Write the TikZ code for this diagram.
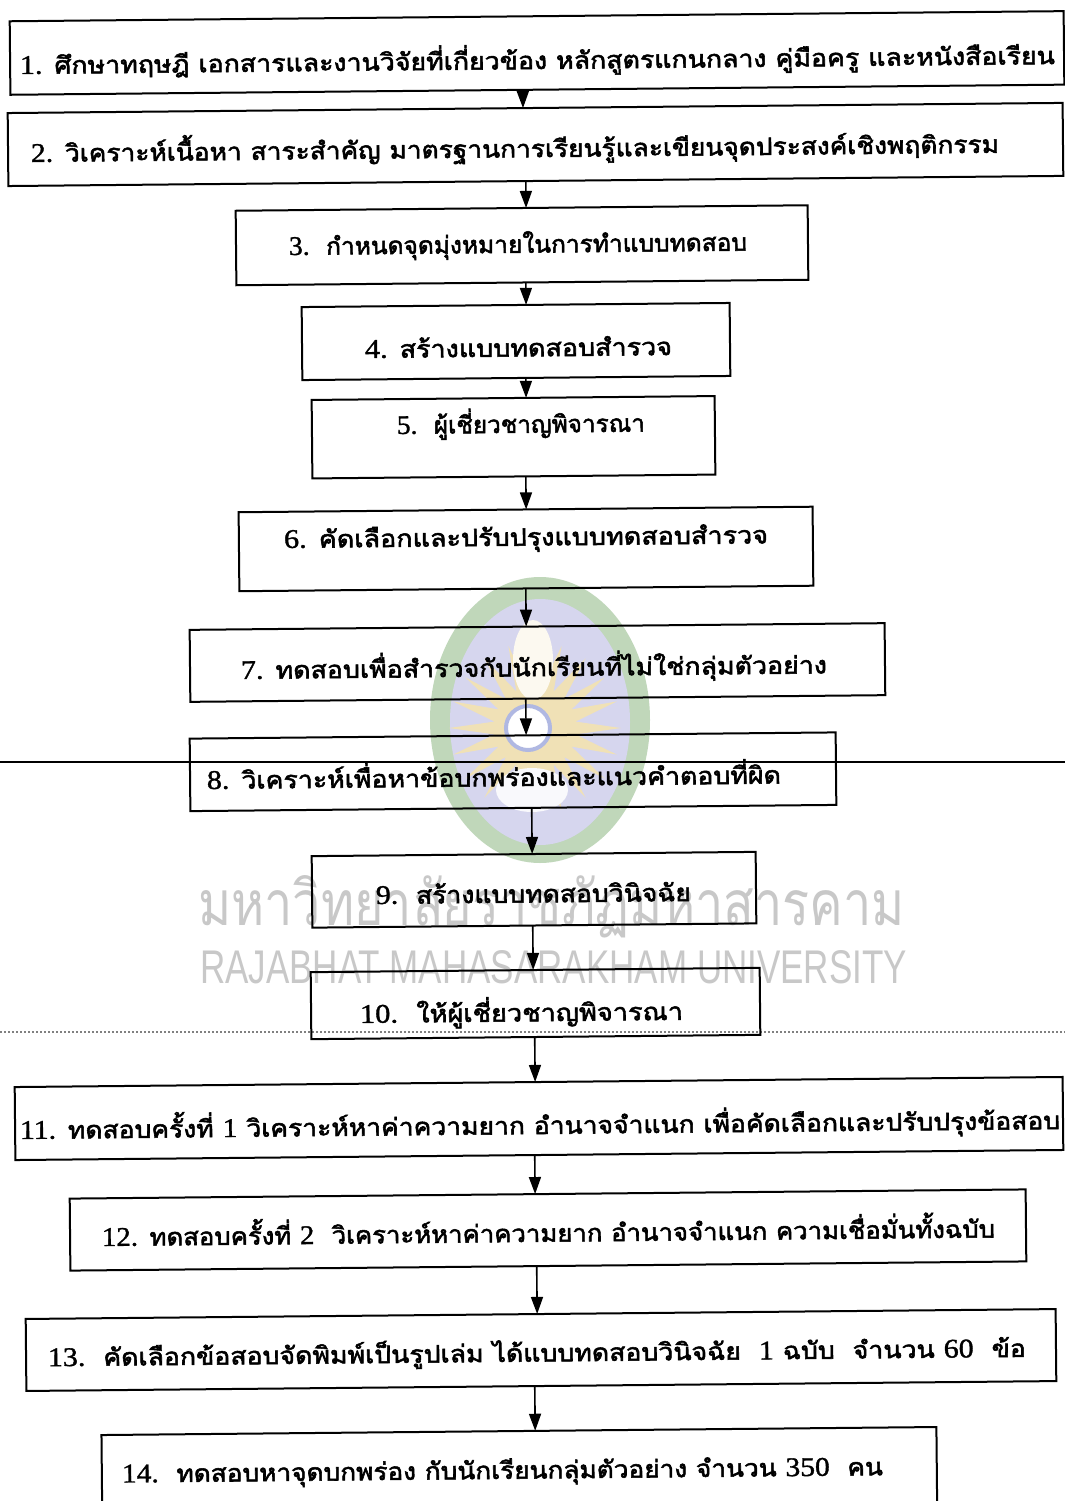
\documentclass[tikz,border=0pt]{standalone}
\usepackage{fontspec}
\usepackage{graphicx}
\usetikzlibrary{arrows.meta,shapes.geometric}
\newfontfamily\thai[Script=Thai, FakeBold=2.2]{Loma}
\newfontfamily\thaiwm[Script=Thai]{Loma}
\newfontfamily\dgfont[FakeBold=1.2]{Liberation Serif}
\newfontfamily\wmsans{Liberation Sans}
\newcommand{\dg}[1]{{\dgfont\fontsize{13.5}{15}\selectfont #1}}
\newcommand{\fitw}[2]{\resizebox{#1}{\height}{#2}}
\definecolor{wmgray}{RGB}{200,200,200}
\definecolor{logoG}{RGB}{192,215,186}
\definecolor{logoB}{RGB}{214,214,238}
\definecolor{logoY}{RGB}{240,225,182}
\definecolor{logoR}{RGB}{176,184,226}
\begin{document}
\begin{tikzpicture}[x=0.5pt,y=-0.5pt,
  box/.style={draw=black, line width=1pt, rectangle, inner sep=0pt, outer sep=0pt},
  txt/.style={anchor=base west, inner sep=0pt, outer sep=0pt, font=\thai\fontsize{12}{14}\selectfont},
  arr/.style={line width=0.8pt, -{Triangle[length=8.5pt,width=6pt]}},
  wm/.style={anchor=base west, inner sep=0pt, outer sep=0pt, text=wmgray}]
\useasboundingbox (0,0) rectangle (1065,1501);
\fill[white] (0,0) rectangle (1065,1501);
\clip (0,0) rectangle (1065,1501);
% ---- faint logo watermark
\fill[logoG] (540,720) ellipse [x radius=110, y radius=143];
\fill[logoB] (540,722) ellipse [x radius=90, y radius=123];
\node[star, star points=20, star point ratio=2.1, fill=logoY, minimum size=86pt, inner sep=0pt] (sun) at (535,728) {};
\fill[white!80!logoY] (533,660) ellipse [x radius=20, y radius=40];
\fill[white!85!logoB] (532,790) ellipse [x radius=36, y radius=22];
\fill[white] (528,728) circle [radius=22];
\draw[logoR, line width=2pt] (528,728) circle [radius=22];
% ---- text watermark
\node[wm] (wmth) at (198,925) {\resizebox{353.5pt}{25pt}{\thaiwm มหาวิทยาลัยราชภัฏมหาสารคาม}};
\node[wm] (wmen) at (200,983) {\resizebox{353.5pt}{16.5pt}{\wmsans RAJABHAT MAHASARAKHAM UNIVERSITY}};
% ---- scan lines
\coordinate (la) at (0,762); \coordinate (lb) at (1065,762);
\draw[line width=0.7pt] (la) -- (lb);
\coordinate (da) at (0,1032); \coordinate (db) at (1065,1032);
\draw[gray, line width=0.6pt, dash pattern=on 1pt off 1pt] (da) -- (db);
% ---- flowchart (slightly skewed like the scan)
\begin{scope}[rotate around={0.55:(532,750)}, transform shape]
\node[box, minimum width=527pt,   minimum height=36.75pt] (b1)  at (543.7,53)     {};
\node[box, minimum width=527.5pt, minimum height=36.5pt]  (b2)  at (541.3,144.5)  {};
\node[box, minimum width=286pt,   minimum height=37.25pt] (b3)  at (526.85,245.15){};
\node[box, minimum width=214pt,   minimum height=36.5pt]  (b4)  at (519.9,341.35) {};
\node[box, minimum width=201.5pt, minimum height=39.25pt] (b5)  at (516.5,437.07) {};
\node[box, minimum width=287pt,   minimum height=39.5pt]  (b6)  at (527.9,548.9)  {};
\node[box, minimum width=347.5pt, minimum height=36pt]    (b7)  at (538.3,662.55) {};
\node[box, minimum width=323pt,   minimum height=36.25pt] (b8)  at (512.8,771.57) {};
\node[box, minimum width=222pt,   minimum height=35.75pt] (b9)  at (532.66,889.77){};
\node[box, minimum width=224.5pt, minimum height=33.5pt]  (b10) at (533.07,1003.53){};
\node[box, minimum width=524pt,   minimum height=36.5pt]  (b11) at (535.46,1118.57){};
\node[box, minimum width=478pt,   minimum height=36pt]    (b12) at (543.4,1230.15){};
\node[box, minimum width=515pt,   minimum height=36pt]    (b13) at (535.24,1350.1){};
\node[box, minimum width=417.5pt, minimum height=60pt]    (b14) at (512.4,1490.9) {};
%
\node[txt] (t1)  at (26.5,69.1)   {\fitw{517.5pt}{\dg{1.} ศึกษาทฤษฎี เอกสารและงานวิจัยที่เกี่ยวข้อง หลักสูตรแกนกลาง คู่มือครู และหนังสือเรียน}};
\node[txt] (t2)  at (36.7,157.2)  {\fitw{484pt}{\dg{2.} วิเคราะห์เนื้อหา สาระสำคัญ มาตรฐานการเรียนรู้และเขียนจุดประสงค์เชิงพฤติกรรม}};
\node[txt] (t3)  at (293.8,252.7) {\fitw{229pt}{\dg{3.}\ \ กำหนดจุดมุ่งหมายในการทำแบบทดสอบ}};
\node[txt] (t4)  at (368.8,356.4) {\fitw{153.5pt}{\dg{4.} สร้างแบบทดสอบสำรวจ}};
\node[txt] (t5)  at (400,432.7)   {\fitw{124pt}{\dg{5.}\ \ ผู้เชี่ยวชาญพิจารณา}};
\node[txt] (t6)  at (286,545.6)   {\fitw{242pt}{\dg{6.} คัดเลือกและปรับปรุงแบบทดสอบสำรวจ}};
\node[txt] (t7)  at (241.7,676.2) {\fitw{293pt}{\dg{7.} ทดสอบเพื่อสำรวจกับนักเรียนที่ไม่ใช่กลุ่มตัวอย่าง}};
\node[txt] (t8)  at (206.6,785.9) {\fitw{287pt}{\dg{8.} วิเคราะห์เพื่อหาข้อบกพร่องและแนวคำตอบที่ผิด}};
\node[txt] (t9)  at (374.5,902.5) {\fitw{157.5pt}{\dg{9.}\ \ สร้างแบบทดสอบวินิจฉัย}};
\node[txt] (t10) at (357.4,1021.3){\fitw{161.5pt}{\dg{10.}\ \ ให้ผู้เชี่ยวชาญพิจารณา}};
\node[txt] (t11) at (16.3,1134.1) {\fitw{520pt}{\dg{11.} ทดสอบครั้งที่ \dg{1} วิเคราะห์หาค่าความยาก อำนาจจำแนก เพื่อคัดเลือกและปรับปรุงข้อสอบ}};
\node[txt] (t12) at (97.2,1241.9) {\fitw{446.5pt}{\dg{12.} ทดสอบครั้งที่ \dg{2}\ \ วิเคราะห์หาค่าความยาก อำนาจจำแนก ความเชื่อมั่นทั้งฉบับ}};
\node[txt] (t13) at (42.1,1361.6) {\fitw{489pt}{\dg{13.}\ \ คัดเลือกข้อสอบจัดพิมพ์เป็นรูปเล่ม ได้แบบทดสอบวินิจฉัย\ \ \dg{1} ฉบับ\ \ จำนวน \dg{60}\ \ ข้อ}};
\node[txt] (t14) at (115,1478.6)  {\fitw{380.5pt}{\dg{14.}\ \ ทดสอบหาจุดบกพร่อง กับนักเรียนกลุ่มตัวอย่าง จำนวน \dg{350}\ \ คน}};
%
\coordinate (k1)  at (529.2,99);
\coordinate (k2)  at (531.3,195);
\coordinate (k3)  at (530.4,293);
\coordinate (k4)  at (529.5,388);
\coordinate (k5)  at (528.5,493);
\coordinate (k6)  at (527.4,607);
\coordinate (k7)  at (526.3,717);
\coordinate (k8)  at (531.2,831);
\coordinate (k9)  at (531.1,948);
\coordinate (k10) at (532,1060);
\coordinate (k11) at (530.9,1175);
\coordinate (k12) at (531.8,1290);
\coordinate (k13) at (528.7,1408);
\draw[arr] (b1.south -| k1)   -- (b2.north -| k1);
\draw[arr] (b2.south -| k2)   -- (b3.north -| k2);
\draw[arr] (b3.south -| k3)   -- (b4.north -| k3);
\draw[arr] (b4.south -| k4)   -- (b5.north -| k4);
\draw[arr] (b5.south -| k5)   -- (b6.north -| k5);
\draw[arr] (b6.south -| k6)   -- (b7.north -| k6);
\draw[arr] (b7.south -| k7)   -- (b8.north -| k7);
\draw[arr] (b8.south -| k8)   -- (b9.north -| k8);
\draw[arr] (b9.south -| k9)   -- (b10.north -| k9);
\draw[arr] (b10.south -| k10) -- (b11.north -| k10);
\draw[arr] (b11.south -| k11) -- (b12.north -| k11);
\draw[arr] (b12.south -| k12) -- (b13.north -| k12);
\draw[arr] (b13.south -| k13) -- (b14.north -| k13);
\end{scope}
\end{tikzpicture}
\end{document}
